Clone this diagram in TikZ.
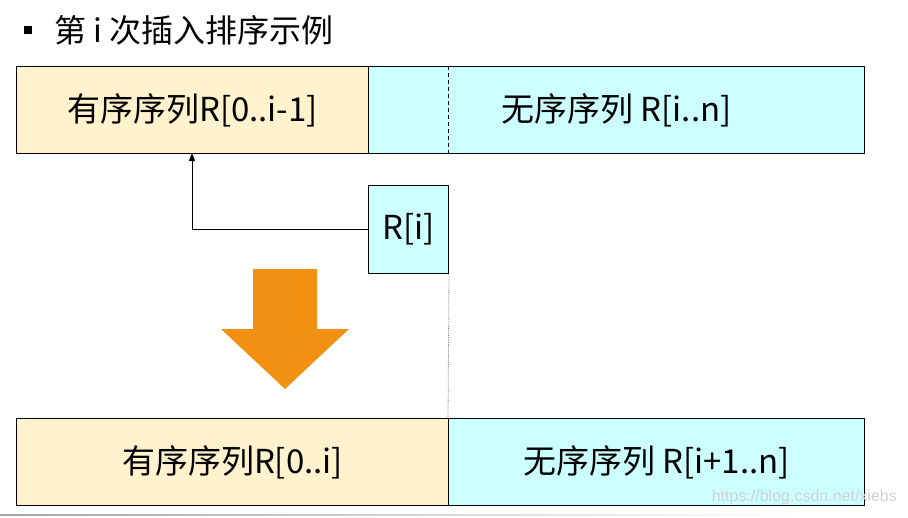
\documentclass[tikz,border=0pt]{standalone}
\usepackage{fontspec}
\setmainfont{Noto Sans CJK SC}
\newfontfamily\wmfont{Liberation Sans}
\usetikzlibrary{arrows.meta}
\definecolor{sortyel}{HTML}{FFF2CC}
\definecolor{unscyan}{HTML}{CCFFFF}
\definecolor{bigorange}{HTML}{F29111}
\tikzset{
  x=1pt, y=-1pt,
  seg/.style={draw=black, line width=1pt, inner sep=0pt, anchor=north west},
  yelseg/.style={seg, fill=sortyel},
  cyaseg/.style={seg, fill=unscyan},
  lbl/.style={font=\fontsize{33}{38}\selectfont, inner sep=0pt},
}
\begin{document}
\begin{tikzpicture}
\useasboundingbox (0,0) rectangle (908,517);
% title
\fill (24,26) rectangle (32,34);
\node[anchor=west, font=\fontsize{32}{36}\selectfont, inner sep=0pt] (title) at (54,30) {第 i 次插入排序示例};
% top bar
\node[yelseg, minimum width=352pt, minimum height=87pt] (ta) at (16,66) {};
\node[cyaseg, minimum width=496pt, minimum height=87pt] (tb) at (368,66) {};
\node[lbl] at (ta.center) {有序序列R[0..i-1]};
\node[lbl] at (tb.center) {无序序列 R[i..n]};
\draw[line width=1pt, dash pattern=on 4pt off 3pt] (448,66) -- (448,153);
% R[i]
\node[cyaseg, minimum width=80pt, minimum height=88pt] (ri) at (368,185) {};
\node[lbl] at (ri.center) {R[i]};
\coordinate (ins) at (192,153);
\draw[line width=1pt, -{Triangle[length=8pt,width=6pt]}] (ri.west) -| (ins);
% dotted guide
\draw[gray, densely dotted, line width=0.8pt] (ri.south east) -- (448,418);
% big orange arrow
\fill[bigorange] (253,269) -- (317,269) -- (317,329) -- (349,329) -- (285,389) -- (221,329) -- (253,329) -- cycle;
% bottom bar
\node[yelseg, minimum width=432pt, minimum height=87pt] (ba) at (16,418) {};
\node[cyaseg, minimum width=416pt, minimum height=87pt] (bb) at (448,418) {};
\node[lbl] at (ba.center) {有序序列R[0..i]};
\node[lbl] at (bb.center) {无序序列 R[i+1..n]};
% watermark
\node[anchor=east, text=black!18, font=\wmfont\fontsize{16}{19}\selectfont, inner sep=0pt] (wm) at (897,497) {https://blog.csdn.net/xiebs};
\shade[left color=black!35, right color=white] (0,514.5) rectangle (800,515.8);
\end{tikzpicture}
\end{document}
